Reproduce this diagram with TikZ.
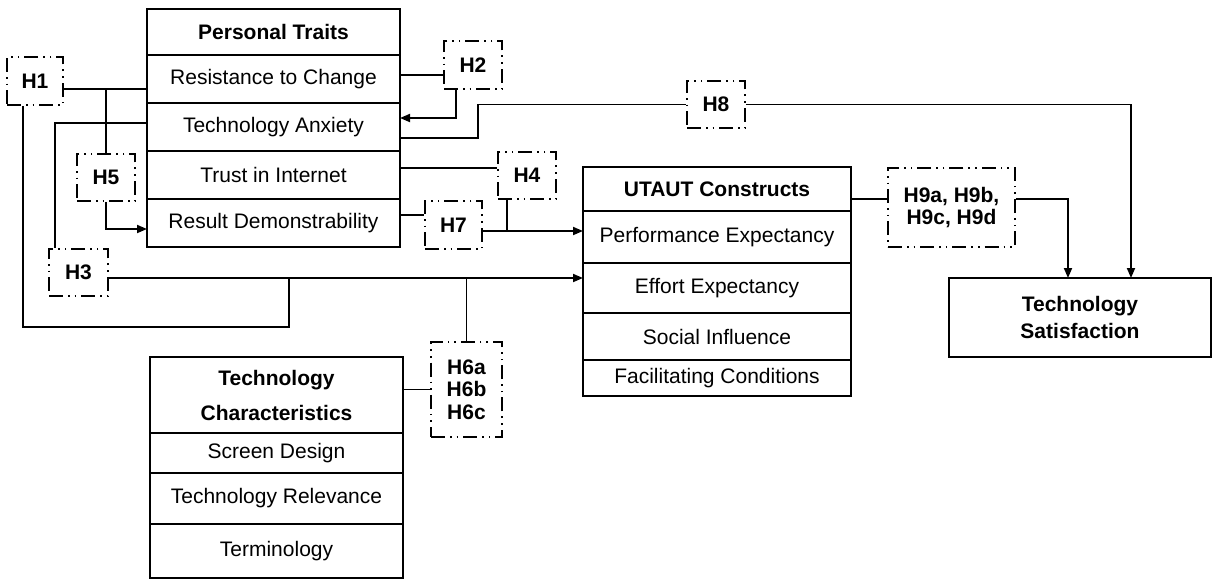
\documentclass[tikz,border=0pt]{standalone}
\usepackage{fontspec}
\setmainfont{Liberation Sans}
\usetikzlibrary{arrows.meta,positioning,calc}

\begin{document}
\begin{tikzpicture}[x=0.5pt,y=-0.5pt,
  cell/.style={rectangle,draw,line width=1pt,outer sep=0pt,inner sep=0pt,align=center,
               font=\fontsize{10.5}{12}\selectfont},
  head/.style={cell,font=\fontsize{10.5}{12}\selectfont\bfseries},
  ptrow/.style={cell,minimum width=126.5pt,minimum height=24pt},
  utrow/.style={cell,minimum width=134pt},
  tcrow/.style={cell,minimum width=126.5pt},
  hyp/.style={rectangle,draw,line width=0.9pt,inner sep=0pt,align=center,
              dash pattern=on 7pt off 2.5pt on 0.8pt off 2.5pt on 0.8pt off 2.5pt,
              font=\fontsize{10.5}{11}\selectfont\bfseries},
  link/.style={line width=0.9pt},
  arr/.style={link,-{Triangle[length=5pt,width=4pt]}}
]
  \useasboundingbox (0,0) rectangle (1212,579);

  % personal traits
  \node[head,anchor=north west,minimum width=126.5pt,minimum height=23pt] (pt) at (147,9) {Personal Traits};
  \node[ptrow,below=0pt of pt] (res) {Resistance to Change};
  \node[ptrow,below=0pt of res] (anx) {Technology Anxiety};
  \node[ptrow,below=0pt of anx] (trust) {Trust in Internet};
  \node[ptrow,below=0pt of trust] (resdem) {Result Demonstrability};

  % utaut
  \node[head,anchor=north west,minimum width=134pt,minimum height=22pt] (ut) at (583,167) {UTAUT Constructs};
  \node[utrow,minimum height=26pt,below=0pt of ut] (pe) {Performance Expectancy};
  \node[utrow,minimum height=25pt,below=0pt of pe] (ee) {Effort Expectancy};
  \node[utrow,minimum height=23.5pt,below=0pt of ee] (si) {Social Influence};
  \node[utrow,minimum height=18pt,below=0pt of si] (fc) {Facilitating Conditions};

  % technology characteristics
  \node[head,anchor=north west,minimum width=126.5pt,minimum height=38pt,
        font=\fontsize{10.5}{17.5}\selectfont\bfseries] (tc) at (150,357) {Technology\\Characteristics};
  \node[tcrow,minimum height=20pt,below=0pt of tc] (sd) {Screen Design};
  \node[tcrow,minimum height=25.5pt,below=0pt of sd] (trel) {Technology Relevance};
  \node[tcrow,minimum height=27pt,below=0pt of trel] (term) {Terminology};

  % outcome
  \node[head,anchor=north west,minimum width=131pt,minimum height=39.5pt,
        font=\fontsize{10.5}{13.5}\selectfont\bfseries] (ts) at (949,278) {Technology\\Satisfaction};

  % hypotheses
  \node[hyp,minimum width=28pt,minimum height=24pt] (h1) at (35,81) {H1};
  \node[hyp,minimum width=29pt,minimum height=24pt] (h2) at (473,65) {H2};
  \node[hyp,minimum width=29.5pt,minimum height=23.5pt] (h3) at (78.5,272.5) {H3};
  \node[hyp,minimum width=29pt,minimum height=23.5pt] (h4) at (527,175.5) {H4};
  \node[hyp,minimum width=29pt,minimum height=23.5pt] (h5) at (106,177.5) {H5};
  \node[hyp,minimum width=35.5pt,minimum height=47.5pt,
        font=\fontsize{10.5}{11.25}\selectfont\bfseries] (h6) at (466.5,389.5) {H6a\\H6b\\H6c};
  \node[hyp,minimum width=28.5pt,minimum height=24pt] (h7) at (453.5,225) {H7};
  \node[hyp,minimum width=29pt,minimum height=23.5pt] (h8) at (716,104.5) {H8};
  \node[hyp,minimum width=63.5pt,minimum height=39.5pt] (h9) at (951.5,207.5) {H9a, H9b,\\H9c, H9d};

  % junction points
  \coordinate (a1) at ($(h1.east)+(0,8)$);
  \coordinate (a2) at ($(anx.west)+(0,-4)$);
  \coordinate (a3) at ($(h3.east)+(0,5.5)$);
  \coordinate (a4) at (289,327);
  \coordinate (h1x) at ($(h1.south west)+(17,0)$);
  \coordinate (h3x) at ($(h3.north west)+(7,0)$);
  \coordinate (b1) at ($(res.east)+(0,-4)$);
  \coordinate (b2) at ($(anx.east)+(0,11)$);
  \coordinate (b3) at (478,0);
  \coordinate (h2x) at ($(h2.south west)+(13,0)$);
  \coordinate (c1) at ($(trust.east)+(0,-7)$);
  \coordinate (c2) at ($(resdem.east)+(0,-8)$);
  \coordinate (c3) at ($(h7.east)+(0,6)$);
  \coordinate (c4) at ($(h4.south west)+(10,0)$);
  \coordinate (d1) at ($(ut.east)+(0,10)$);

  % H1, H5, H3
  \draw[link] (a1) -- (a1 -| res.west);
  \draw[link] (h5.north) -- (h5.north |- a1);
  \draw[arr] (h5.south) |- ($(resdem.west)+(0,6)$);
  \draw[link] (a2) -| (h3x);
  \draw[arr] (a3) -- (a3 -| ee.west);
  \draw[link] (h1x) |- (a4) -- (a4 |- a3);

  % H2, H8
  \draw[link] (b1) -- (b1 -| h2.west);
  \draw[arr] (h2x) |- ($(anx.east)+(0,-9)$);
  \draw[link] (b2) -| (b3 |- h8.west) -- (h8.west);
  \draw[arr] (h8.east) -| ($(ts.north)+(51,0)$);

  % H4, H7
  \draw[link] (c1) -- (c1 -| h4.west);
  \draw[link] (c2) -- (c2 -| h7.west);
  \draw[arr] (c3) -- (c3 -| pe.west);
  \draw[link] (c4) -- (c4 |- c3);

  % H6
  \draw[link] (h6.north) -- (h6.north |- a3);
  \draw[link] (h6.west) -- (h6.west -| tc.east);

  % H9
  \draw[link] (d1) -- (d1 -| h9.west);
  \draw[arr] (h9.east |- d1) -| ($(ts.north)+(-12,0)$);
\end{tikzpicture}
\end{document}
